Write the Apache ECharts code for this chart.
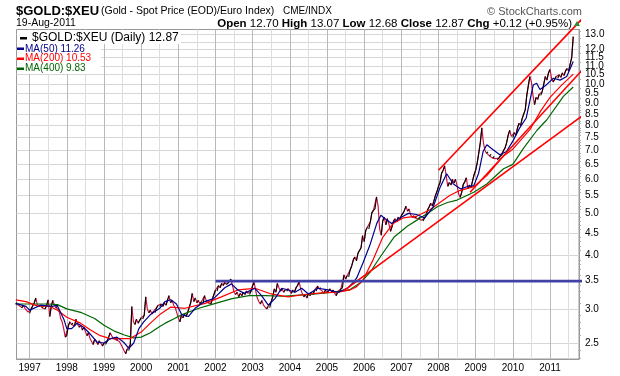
<!DOCTYPE html>
<html><head><meta charset="utf-8">
<script src="https://cdn.jsdelivr.net/npm/echarts@6/dist/echarts.min.js"></script>
<style>html,body{margin:0;padding:0;background:#fff}#c{width:620px;height:376px}</style>
</head><body><div id="c"></div>
<script>
// ---------- DATA ----------
// Price: one value every half month, starting mid-Aug 1996
const priceStart = 1996 + 15 / 24;
const priceStep = 1 / 24;
const priceValues = [
  // 1996 (from mid-Aug)
  3.08, 3.10, 3.06, 3.04, 3.02, 3.06, 3.01, 2.98, 2.95,
  // 1997
  2.93, 3.00, 3.05, 3.10, 3.18, 3.06, 3.04, 3.06, 3.02, 3.04, 3.00, 3.06,
  3.15, 2.88, 3.05, 3.14, 3.06, 3.02, 3.05, 2.98, 2.85, 2.80, 2.70, 2.58,
  // 1998
  2.60, 2.74, 2.80, 2.76, 2.78, 2.74, 2.84, 2.76, 2.72, 2.75, 2.68, 2.72,
  2.66, 2.60, 2.64, 2.56, 2.52, 2.48, 2.55, 2.52, 2.48, 2.53, 2.50, 2.46,
  // 1999
  2.50, 2.48, 2.52, 2.58, 2.64, 2.60, 2.56, 2.58, 2.54, 2.56, 2.52, 2.48,
  2.44, 2.40, 2.36, 2.42, 2.40, 2.48, 3.04, 2.80, 2.76, 2.84, 2.78, 2.82,
  // 2000
  2.86, 2.84, 2.90, 3.20, 3.00, 2.94, 2.98, 2.92, 2.96, 2.94, 3.02, 3.06,
  3.04, 3.08, 3.04, 3.10, 3.06, 3.14, 3.22, 3.10, 3.14, 3.06, 3.02, 2.94,
  // 2001
  2.86, 2.80, 2.90, 2.86, 2.92, 2.88, 2.94, 3.02, 3.10, 3.26, 3.12, 3.18,
  3.10, 3.14, 3.08, 3.12, 3.10, 3.22, 3.14, 3.10, 3.12, 3.08, 3.16, 3.24,
  // 2002
  3.32, 3.30, 3.40, 3.36, 3.44, 3.40, 3.46, 3.42, 3.44, 3.48, 3.52, 3.40,
  3.28, 3.24, 3.28, 3.20, 3.26, 3.22, 3.28, 3.24, 3.30, 3.26, 3.24, 3.30,
  // 2003
  3.40, 3.46, 3.30, 3.18, 3.12, 3.08, 3.14, 3.06, 3.04, 3.00, 3.04, 3.02,
  3.12, 3.20, 3.34, 3.28, 3.44, 3.36, 3.30, 3.34, 3.28, 3.32, 3.30, 3.34,
  // 2004
  3.30, 3.26, 3.32, 3.28, 3.36, 3.40, 3.47, 3.34, 3.26, 3.20, 3.24, 3.18,
  3.26, 3.22, 3.28, 3.24, 3.32, 3.30, 3.39, 3.34, 3.36, 3.30, 3.26, 3.32,
  // 2005
  3.28, 3.30, 3.34, 3.28, 3.32, 3.26, 3.22, 3.30, 3.28, 3.34, 3.36, 3.60,
  3.52, 3.58, 3.56, 3.70, 3.78, 3.90, 3.96, 3.88, 4.04, 4.10, 4.16, 4.44,
  // 2006
  4.30, 4.56, 4.64, 4.60, 4.78, 5.02, 5.08, 5.12, 5.46, 5.20, 4.60, 4.45,
  4.80, 4.90, 4.70, 4.86, 4.72, 4.54, 4.66, 4.80, 4.86, 4.78, 4.90, 4.84,
  // 2007
  4.94, 5.00, 5.08, 5.20, 5.06, 5.12, 4.96, 4.90, 4.94, 4.88, 4.92, 4.86,
  4.90, 4.82, 4.80, 4.88, 4.96, 5.10, 5.18, 5.28, 5.20, 5.34, 5.50, 5.62,
  // 2008
  5.78, 5.90, 6.20, 6.30, 6.45, 6.10, 5.78, 5.90, 5.82, 6.00, 5.88, 6.00,
  5.80, 5.55, 5.45, 5.60, 5.84, 5.92, 6.05, 5.70, 5.82, 5.74, 5.95, 6.15,
  // 2009
  6.30, 6.55, 6.90, 7.30, 7.90, 7.30, 7.00, 6.90, 6.95, 6.80, 6.86, 6.72,
  6.78, 6.70, 6.66, 6.72, 6.80, 6.84, 7.00, 7.10, 7.30, 7.60, 7.80, 7.55,
  // 2010
  7.50, 7.70, 7.60, 7.90, 8.10, 8.00, 8.30, 8.50, 8.70, 9.40, 9.90, 10.40,
  10.10, 9.40, 8.95, 9.30, 9.20, 9.45, 9.40, 9.60, 10.00, 10.40, 10.20, 10.60,
  // 2011 (to 19-Aug)
  10.80, 10.30, 10.10, 10.25, 10.40, 10.30, 10.50, 10.35, 10.60, 10.45, 10.70, 10.85,
  10.70, 11.10, 11.50, 12.87
];

const ma50Years = [1996.63, 1996.9, 1997.0, 1997.3, 1997.6, 1997.74, 1997.92, 1998.0, 1998.13, 1998.28,
  1998.45, 1998.62, 1998.82, 1999.0, 1999.18, 1999.35, 1999.53, 1999.67, 1999.8, 1999.94,
  2000.07, 2000.25, 2000.5, 2000.64, 2000.8, 2000.95, 2001.09, 2001.27, 2001.45, 2001.71,
  2001.95, 2002.25, 2002.43, 2002.6, 2002.78, 2003.06, 2003.24, 2003.42, 2003.6, 2003.78,
  2003.96, 2004.14, 2004.32, 2004.5, 2004.76, 2005.03, 2005.3, 2005.57, 2005.7, 2005.8,
  2005.97, 2006.15, 2006.34, 2006.45, 2006.6, 2006.74, 2006.96, 2007.19, 2007.41, 2007.63,
  2007.86, 2008.04, 2008.22, 2008.4, 2008.6, 2008.8, 2008.95, 2009.08, 2009.2, 2009.3,
  2009.47, 2009.65, 2009.83, 2010.0, 2010.18, 2010.36, 2010.55, 2010.64, 2010.73, 2010.9,
  2011.09, 2011.27, 2011.45, 2011.625];
const ma50Values = [3.09, 3.04, 2.98, 3.06, 3.04, 3.06, 2.84, 2.70, 2.70, 2.78,
  2.72, 2.63, 2.51, 2.50, 2.56, 2.58, 2.51, 2.43, 2.50, 2.70,
  2.80, 2.91, 3.01, 3.12, 3.15, 3.08, 2.91, 2.88, 3.01, 3.12,
  3.17, 3.36, 3.43, 3.32, 3.26, 3.35, 3.22, 3.06, 3.17, 3.35,
  3.32, 3.28, 3.35, 3.25, 3.35, 3.32, 3.28, 3.36, 3.45, 3.54,
  3.84, 4.21, 4.74, 4.95, 4.83, 4.74, 4.88, 5.00, 4.97, 4.88,
  5.18, 5.74, 6.18, 5.85, 5.70, 5.78, 5.80, 6.20, 6.96, 7.22,
  7.03, 6.84, 6.96, 7.36, 7.89, 8.33, 9.94, 10.03, 9.70, 9.94,
  10.30, 10.20, 10.40, 11.26];

const ma200Years = [1996.63, 1996.9, 1997.2, 1997.55, 1997.75, 1998.0, 1998.37, 1998.64, 1998.9, 1999.17,
  1999.44, 1999.71, 2000.0, 2000.25, 2000.5, 2000.8, 2001.18, 2001.72, 2002.16, 2002.6,
  2003.06, 2003.5, 2003.95, 2004.4, 2004.85, 2005.3, 2005.62, 2005.8, 2005.97, 2006.24,
  2006.5, 2006.78, 2007.05, 2007.42, 2007.77, 2008.04, 2008.3, 2008.57, 2008.95, 2009.3,
  2009.75, 2010.0, 2010.47, 2010.75, 2011.0, 2011.3, 2011.625];
const ma200Values = [3.15, 3.12, 3.05, 3.04, 2.98, 2.87, 2.78, 2.68, 2.60, 2.56,
  2.56, 2.56, 2.65, 2.78, 2.91, 3.03, 3.01, 3.09, 3.20, 3.32,
  3.35, 3.25, 3.20, 3.24, 3.27, 3.28, 3.32, 3.38, 3.50, 3.90,
  4.40, 4.74, 4.88, 4.93, 5.10, 5.30, 5.50, 5.65, 5.77, 6.12,
  6.80, 7.05, 7.85, 8.65, 9.30, 9.90, 10.53];

const ma400Years = [1996.63, 1997.0, 1997.5, 1997.75, 1998.0, 1998.4, 1998.75, 1999.0, 1999.3, 1999.55,
  1999.8, 2000.0, 2000.25, 2000.5, 2000.65, 2000.9, 2001.1, 2001.55, 2002.0, 2002.45,
  2002.9, 2003.35, 2003.8, 2004.25, 2004.7, 2005.15, 2005.6, 2005.9, 2006.17, 2006.44,
  2006.8, 2007.16, 2007.43, 2007.7, 2007.97, 2008.24, 2008.5, 2008.95, 2009.3, 2009.75,
  2010.0, 2010.28, 2010.65, 2010.91, 2011.36, 2011.625];
const ma400Values = [3.08, 3.08, 3.08, 3.07, 3.00, 2.94, 2.85, 2.75, 2.66, 2.61,
  2.57, 2.58, 2.64, 2.73, 2.78, 2.85, 2.91, 3.01, 3.09, 3.17,
  3.22, 3.22, 3.21, 3.23, 3.25, 3.28, 3.32, 3.45, 3.66, 3.97,
  4.40, 4.67, 4.83, 5.00, 5.18, 5.30, 5.37, 5.60, 5.85, 6.35,
  6.50, 7.07, 7.80, 8.24, 9.35, 9.83];

// Annotation lines (start/end points)
const upperChannelYears = [2008.0, 2012.34];
const upperChannelValues = [6.30, 15.64];
const middleLineYears = [2008.85, 2012.88];
const middleLineValues = [5.60, 13.40];
const lowerLineYears = [2005.436, 2012.88];
const lowerLineValues = [3.30, 9.77];
const resistanceYears = [2002.0, 2012.88];
const resistanceValues = [3.48, 3.48];

// Axis ticks / labels
const yLabelValues = [2.5, 3.0, 3.5, 4.0, 4.5, 5.0, 5.5, 6.0, 6.5, 7.0, 7.5, 8.0, 8.5, 9.0, 9.5, 10.0, 10.5, 11.0, 11.5, 12.0, 13.0];
const yGridValues = [2.5, 3.0, 3.5, 4.0, 4.5, 5.0, 5.5, 6.0, 6.5, 7.0, 7.5, 8.0, 8.5, 9.0, 9.5, 10.0, 10.5, 11.0, 11.5, 12.0, 12.5, 13.0];
const yMinorTickValues = [2.3, 2.4, 2.6, 2.7, 2.8, 2.9, 3.1, 3.2, 3.3, 3.4, 3.6, 3.7, 3.8, 3.9, 4.1, 4.2, 4.3, 4.4,
  4.6, 4.7, 4.8, 4.9, 5.1, 5.2, 5.3, 5.4, 5.6, 5.7, 5.8, 5.9, 6.1, 6.2, 6.3, 6.4, 6.6, 6.7, 6.8, 6.9,
  7.1, 7.2, 7.3, 7.4, 7.6, 7.7, 7.8, 7.9, 8.1, 8.2, 8.3, 8.4, 8.6, 8.7, 8.8, 8.9, 9.25, 9.75, 10.25, 10.75,
  11.25, 11.75, 12.25, 12.75, 13.25];
const xLabelYears = [1997, 1998, 1999, 2000, 2001, 2002, 2003, 2004, 2005, 2006, 2007, 2008, 2009, 2010, 2011];
const xHalfYears = [1996.5, 1997.5, 1998.5, 1999.5, 2000.5, 2001.5, 2002.5, 2003.5, 2004.5, 2005.5, 2006.5, 2007.5, 2008.5, 2009.5, 2010.5, 2011.5];

// ---------- BUILD ----------
const FONT = '"Liberation Sans", Arial, Helvetica, sans-serif';
const pairs = (xs, ys) => xs.map((x, i) => [x, ys[i]]);
const priceData = priceValues.map((v, i) => [priceStart + i * priceStep, v]);
const upData = [];
for (let i = 1; i < priceData.length; i++) {
  if (priceValues[i] > priceValues[i - 1]) {
    upData.push(priceData[i - 1], priceData[i], [priceData[i][0], '-']);
  }
}

const lineSeries = (name, data, color, width, extra) => Object.assign({
  name, type: 'line', data, symbol: 'none', showSymbol: false,
  lineStyle: { color, width }, itemStyle: { color },
  animation: false, silent: true, connectNulls: false
}, extra || {});

const txt = (text, x, y, font, fill, align) => ({
  type: 'text', silent: true, z: 100,
  style: { text, x, y, font, fill, align: align || 'left', verticalAlign: 'middle' }
});
const box = (x, y, w, h, fill) => ({ type: 'rect', silent: true, z: 99, shape: { x, y, width: w, height: h }, style: { fill } });

const chart = echarts.init(document.getElementById('c'), null, { renderer: 'canvas' });
chart.setOption({
  animation: false,
  backgroundColor: '#fff',
  grid: { left: 16.5, right: 41, top: 29.5, bottom: 17, show: true, borderColor: '#999', borderWidth: 1, backgroundColor: 'transparent' },
  xAxis: [{
    type: 'value', min: 1996.647, max: 2011.78,
    axisLine: { show: true, lineStyle: { color: '#999' } },
    axisTick: { show: false, customValues: xLabelYears },
    splitLine: { show: true, lineStyle: { color: '#b9b9b9', width: 1 } },
    axisLabel: { customValues: xLabelYears, formatter: v => String(Math.round(v)), color: '#000', fontSize: 10, fontFamily: FONT, margin: 4 }
  }, {
    type: 'value', min: 1996.647, max: 2011.78, position: 'top',
    axisLine: { show: false }, axisLabel: { show: false },
    axisTick: { show: false, customValues: xHalfYears },
    splitLine: { show: true, lineStyle: { color: '#dedede', width: 1 } }
  }],
  yAxis: [{
    type: 'log', position: 'right', min: 2.295, max: 13.37,
    axisLine: { show: true, lineStyle: { color: '#999' } },
    axisTick: { show: false, customValues: yGridValues },
    splitLine: { show: true, lineStyle: { color: '#d6d6d6', width: 1 } },
    axisLabel: { customValues: yLabelValues, formatter: v => v.toFixed(1), color: '#000', fontSize: 10, fontFamily: FONT, margin: 6 }
  }, {
    type: 'log', position: 'right', min: 2.295, max: 13.37,
    axisLine: { show: false }, axisLabel: { show: false }, splitLine: { show: false },
    axisTick: { show: true, customValues: yMinorTickValues, length: 2, lineStyle: { color: '#aaa' } }
  }],
  series: [
    lineSeries('price', priceData, '#c8103c', 1.15),
    lineSeries('priceUp', upData, '#000000', 1.1),
    lineSeries('MA(400)', pairs(ma400Years, ma400Values), '#006600', 1.2),
    lineSeries('MA(200)', pairs(ma200Years, ma200Values), '#ff0000', 1.2),
    lineSeries('MA(50)', pairs(ma50Years, ma50Values), '#00008b', 1.2),
    lineSeries('upper', pairs(upperChannelYears, upperChannelValues), '#ff0000', 1.6, { clip: false }),
    lineSeries('middle', pairs(middleLineYears, middleLineValues), '#ff0000', 1.6, { clip: false }),
    lineSeries('lower', pairs(lowerLineYears, lowerLineValues), '#ff0000', 1.6, { clip: false }),
    lineSeries('resistance', pairs(resistanceYears, resistanceValues), '#4242a6', 2.6, { clip: false })
  ],
  graphic: [
    // header
    txt('$GOLD:$XEU', 16, 11, 'bold 13px ' + FONT, '#000'),
    txt('(Gold - Spot Price (EOD)/Euro Index)', 101, 11.5, '10.5px ' + FONT, '#000'),
    txt('CME/INDX', 283, 11.5, '10px ' + FONT, '#000'),
    txt('\u00a9 StockCharts.com', 582, 11.5, '11px ' + FONT, '#555', 'right'),
    txt('19-Aug-2011', 16, 23.5, '10.5px ' + FONT, '#000'),
    { type: 'text', silent: true, z: 100, style: {
        text: '{b|Open} 12.70 {b|High} 13.07 {b|Low} 12.68 {b|Close} 12.87 {b|Chg} +0.12 (+0.95%)',
        x: 572, y: 23.5, fontSize: 11.5, fontFamily: FONT, fill: '#000', align: 'right', verticalAlign: 'middle',
        rich: { b: { fontWeight: 'bold', fontSize: 11.5, fontFamily: FONT, fill: '#000' } } } },
    { type: 'polygon', silent: true, z: 100, shape: { points: [[574, 26], [580, 26], [577, 21]] }, style: { fill: '#2e8b2e' } },
    // legend
    box(17, 30, 164, 14, '#fff'),
    box(17, 44, 84, 30, '#fff'),
    box(20, 37, 7, 2.5, '#000'),
    txt('$GOLD:$XEU (Daily) 12.87', 32, 38, '12px ' + FONT, '#000'),
    box(17, 47.5, 7, 2.5, '#00008b'),
    txt('MA(50) 11.26', 25, 49, '10px ' + FONT, '#00008b'),
    box(17, 57.5, 7, 2.5, '#ff0000'),
    txt('MA(200) 10.53', 25, 58.5, '10px ' + FONT, '#ff0000'),
    box(17, 67.5, 7, 2.5, '#006600'),
    txt('MA(400) 9.83', 25, 68.5, '10px ' + FONT, '#006600')
  ]
});
</script>
</body></html>
